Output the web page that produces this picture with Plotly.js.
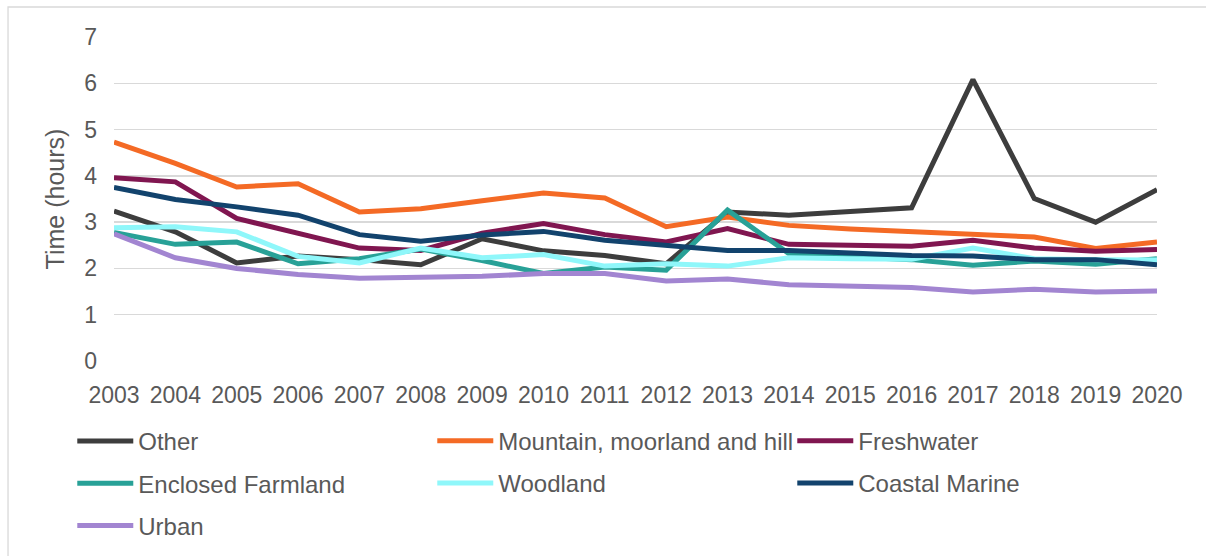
<!DOCTYPE html>
<html>
<head>
<meta charset="utf-8">
<script src="https://cdn.plot.ly/plotly-3.0.1.min.js"></script>
<style>html,body{margin:0;padding:0;background:#fff;}#chart{width:1206px;height:556px;}</style>
</head>
<body>
<div id="chart"></div>
<script>
const years = ['2003','2004','2005','2006','2007','2008','2009','2010','2011','2012','2013','2014','2015','2016','2017','2018','2019','2020'];

const other      = [3.24,2.79,2.12,2.27,2.19,2.08,2.64,2.38,2.28,2.10,3.22,3.15,3.23,3.31,6.08,3.51,3.00,3.70];
const mountain   = [4.73,4.27,3.76,3.83,3.22,3.29,3.46,3.63,3.52,2.90,3.11,2.93,2.85,2.79,2.72,2.68,2.43,2.57];
const freshwater = [3.96,3.87,3.08,2.77,2.44,2.39,2.76,2.97,2.73,2.57,2.86,2.52,2.49,2.48,2.61,2.44,2.37,2.41];
const farmland   = [2.78,2.52,2.57,2.10,2.21,2.42,2.17,1.89,2.03,1.96,3.26,2.32,2.25,2.19,2.07,2.16,2.09,2.21];
const woodland   = [2.88,2.90,2.79,2.26,2.12,2.44,2.23,2.30,2.05,2.10,2.05,2.23,2.21,2.20,2.44,2.21,2.19,2.18];
const coastal    = [3.75,3.49,3.33,3.15,2.73,2.59,2.72,2.80,2.61,2.49,2.39,2.39,2.34,2.28,2.27,2.19,2.19,2.08];
const urban      = [2.75,2.23,2.00,1.87,1.79,1.82,1.83,1.89,1.89,1.73,1.77,1.65,1.61,1.59,1.49,1.55,1.49,1.51];

const seriesNames = ['Other','Mountain, moorland and hill','Freshwater','Enclosed Farmland','Woodland','Coastal Marine','Urban'];
const seriesData = [other, mountain, freshwater, farmland, woodland, coastal, urban];
const seriesColors = ['#3D3D3D','#F46A25','#801650','#28A197','#8FF7FA','#12436D','#A285D1'];
// legend columns: col1, col2, col3
const seriesLegend = ['legend','legend2','legend3','legend','legend2','legend3','legend'];

const traces = seriesNames.map((n, i) => ({
  type: 'scatter', mode: 'lines', name: n, x: years, y: seriesData[i],
  line: {color: seriesColors[i], width: 5, shape: 'linear'},
  legend: seriesLegend[i], legendgroup: 'g' + i, hoverinfo: 'skip'
}));

const txt = '#595959';
const fontFam = 'Liberation Sans, Arial, sans-serif';
function legendAt(x, y) {
  return {
    orientation: 'v', x: x, xanchor: 'left', y: y, yanchor: 'middle',
    traceorder: 'grouped', tracegroupgap: 8, itemwidth: 56,
    font: {family: fontFam, size: 24, color: txt},
    bgcolor: 'rgba(0,0,0,0)', borderwidth: 0, itemclick: false, itemdoubleclick: false
  };
}

const layout = {
  width: 1206, height: 556,
  margin: {l: 114, r: 49, t: 37, b: 195, autoexpand: false},
  paper_bgcolor: '#ffffff', plot_bgcolor: '#ffffff',
  font: {family: fontFam, color: txt},
  showlegend: true,
  xaxis: {
    type: 'category', range: [0, years.length - 1], showgrid: false, zeroline: false,
    showline: false, ticks: '', tickfont: {size: 23, color: txt, family: fontFam},
    ticklabelstandoff: 18, fixedrange: true
  },
  yaxis: {
    range: [0, 7], dtick: 1, tick0: 0, showgrid: true, gridcolor: '#D9D9D9', gridwidth: 1.3,
    zeroline: false, showline: false, ticks: '', tickfont: {size: 23, color: txt, family: fontFam},
    ticklabelstandoff: 16, fixedrange: true,
    title: {text: 'Time (hours)', font: {size: 25, color: txt, family: fontFam}, standoff: 12}
  },
  legend: legendAt(-0.04, -0.378),
  legend2: legendAt(-0.04 + 360 / 1043, -0.3125),
  legend3: legendAt(-0.04 + 720 / 1043, -0.3125),
  shapes: [{
    type: 'rect', xref: 'paper', yref: 'paper', x0: -0.1016, x1: 1.2, y0: -1, y1: 1.0926,
    line: {color: '#D9D9D9', width: 1.3}, fillcolor: 'rgba(0,0,0,0)', layer: 'below'
  }]
};

Plotly.newPlot('chart', traces, layout, {staticPlot: true, displayModeBar: false});
</script>
</body>
</html>
